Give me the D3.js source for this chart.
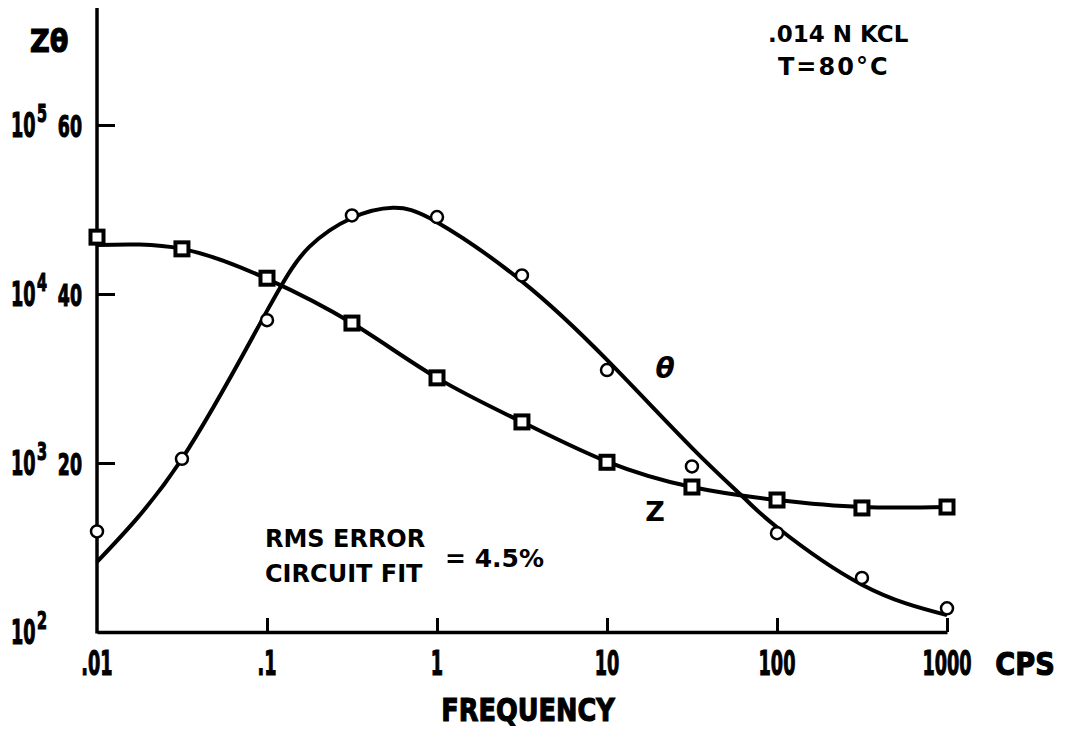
<!DOCTYPE html>
<html>
<head>
<meta charset="utf-8">
<script src="https://cdn.jsdelivr.net/npm/d3@7"></script>
<style>
  html, body { margin: 0; padding: 0; background: #fff; }
  svg { display: block; }
  text { fill: #000; font-family: "DejaVu Sans", sans-serif; font-weight: bold; }
</style>
</head>
<body>
<svg id="chart" width="1066" height="731"></svg>
<script>
// ---- data ----
const frequencies = [0.01, 0.0316, 0.1, 0.316, 1, 3.16, 10, 31.6, 100, 316, 1000];
const zMeasured = [21700, 18500, 12400, 6730, 3190, 1750, 1010, 721, 604, 542, 549];
const thetaMeasured = [11.9, 20.5, 36.9, 49.3, 49.1, 42.2, 31.0, 19.6, 11.7, 6.4, 2.8];

// fitted circuit curves
const zFitFreq = [0.01, 0.0316, 0.1, 0.316, 1, 3.16, 10, 31.6, 100, 316, 1000];
const zFit = [19500, 18500, 12300, 6730, 3190, 1750, 1020, 721, 604, 549, 549];
const thetaFitFreq = [0.01, 0.0316, 0.1, 0.178, 0.316, 0.55, 1, 3.16, 10, 31.6, 63, 100, 316, 1000];
const thetaFit = [8.3, 20.5, 38.0, 45.6, 49.0, 50.2, 48.5, 41.5, 32.2, 21.8, 16.0, 12.4, 5.6, 2.0];

// axis tick labels
const xTickValues = [0.01, 0.1, 1, 10, 100, 1000];
const xTickLabels = [".01", ".1", "1", "10", "100", "1000"];
const zTickExponents = [2, 3, 4, 5];
const thetaTickLabels = ["", "20", "40", "60"];

// ---- drawing ----
const svg = d3.select("#chart");
const x = d3.scaleLog().domain([0.01, 1000]).range([97, 947]);
const yZ = d3.scaleLog().domain([100, 100000]).range([632, 125]);
const yT = d3.scaleLinear().domain([0, 60]).range([632, 125]);
const axisTop = 8;

// helper: horizontally condensed, heavy text placed at (px, py)
function condensed(g, px, py, str, size, sx, anchor) {
  return g.append("text")
    .attr("transform", `translate(${px},${py}) scale(${sx},1)`)
    .attr("text-anchor", anchor || "start")
    .attr("stroke", "#000").attr("stroke-width", 1.2)
    .attr("font-size", size).text(str);
}

// x axis (ticks pointing up)
const xAxis = d3.axisBottom(x).tickValues(xTickValues).tickSize(-14).tickSizeOuter(0).tickFormat(() => "");
const gx = svg.append("g").attr("transform", "translate(0,632)").call(xAxis);
gx.select(".domain").attr("stroke", "#000").attr("stroke-width", 3.5);
gx.selectAll(".tick line").attr("stroke", "#000").attr("stroke-width", 3);
gx.selectAll(".tick").filter(d => d === 0.01).select("line").remove();

const xl = svg.append("g");
xTickValues.forEach((v, i) => condensed(xl, x(v), 675, xTickLabels[i], 34, 0.52, "middle"));
condensed(svg, 1025, 675, "CPS", 32, 0.85, "middle");
condensed(svg, 528, 721, "FREQUENCY", 32, 0.8, "middle");

// y axis (ticks pointing right)
svg.append("line").attr("x1", x(0.01)).attr("x2", x(0.01))
  .attr("y1", yZ(100) + 1.5).attr("y2", axisTop)
  .attr("stroke", "#000").attr("stroke-width", 3.5);
const yAxis = d3.axisLeft(yZ).tickValues(zTickExponents.filter(e => e > 2).map(e => Math.pow(10, e)))
  .tickSize(-18).tickFormat(() => "");
const gy = svg.append("g").attr("transform", `translate(${x(0.01)},0)`).call(yAxis);
gy.select(".domain").remove();
gy.selectAll(".tick line").attr("stroke", "#000").attr("stroke-width", 3);

const yl = svg.append("g");
zTickExponents.forEach((e, i) => {
  const yy = yZ(Math.pow(10, e));
  condensed(yl, 11, yy + 12, "10", 34, 0.52, "start");
  condensed(yl, 37, yy - 3, String(e), 24, 0.6, "start");
  if (thetaTickLabels[i]) condensed(yl, 82, yy + 12, thetaTickLabels[i], 31, 0.56, "end");
});
condensed(svg, 30, 52, "Zθ", 32, 0.85, "start");

// fitted curves
const zLine = d3.line().x((d, i) => x(zFitFreq[i])).y(d => yZ(d)).curve(d3.curveNatural);
const tLine = d3.line().x((d, i) => x(thetaFitFreq[i])).y(d => yT(d)).curve(d3.curveNatural);
svg.append("path").datum(zFit).attr("d", zLine).attr("fill", "none").attr("stroke", "#000").attr("stroke-width", 4);
svg.append("path").datum(thetaFit).attr("d", tLine).attr("fill", "none").attr("stroke", "#000").attr("stroke-width", 4);

// measured points
svg.append("g").selectAll("rect").data(zMeasured).join("rect")
  .attr("x", (d, i) => x(frequencies[i]) - 6.5).attr("y", d => yZ(d) - 6.5)
  .attr("width", 13).attr("height", 13)
  .attr("fill", "#fff").attr("stroke", "#000").attr("stroke-width", 4);
svg.append("g").selectAll("circle").data(thetaMeasured).join("circle")
  .attr("cx", (d, i) => x(frequencies[i])).attr("cy", d => yT(d)).attr("r", 6)
  .attr("fill", "#fff").attr("stroke", "#000").attr("stroke-width", 2.5);

// curve labels and annotations
svg.append("text").attr("x", 665).attr("y", 378).attr("text-anchor", "middle")
  .attr("font-size", 28).attr("font-style", "italic").text("θ");
svg.append("text").attr("x", 655).attr("y", 521).attr("text-anchor", "middle")
  .attr("font-size", 27).text("Z");

svg.append("text").attr("x", 265).attr("y", 547).attr("font-size", 24).text("RMS ERROR");
svg.append("text").attr("x", 265).attr("y", 582).attr("font-size", 24).text("CIRCUIT FIT");
svg.append("text").attr("x", 445).attr("y", 567).attr("font-size", 25).text("= 4.5%");

svg.append("text").attr("x", 768).attr("y", 42).attr("font-size", 23).text(".014 N KCL");
svg.append("text").attr("x", 778).attr("y", 75).attr("font-size", 24)
  .attr("letter-spacing", 2).text("T=80°C");
</script>
</body>
</html>
